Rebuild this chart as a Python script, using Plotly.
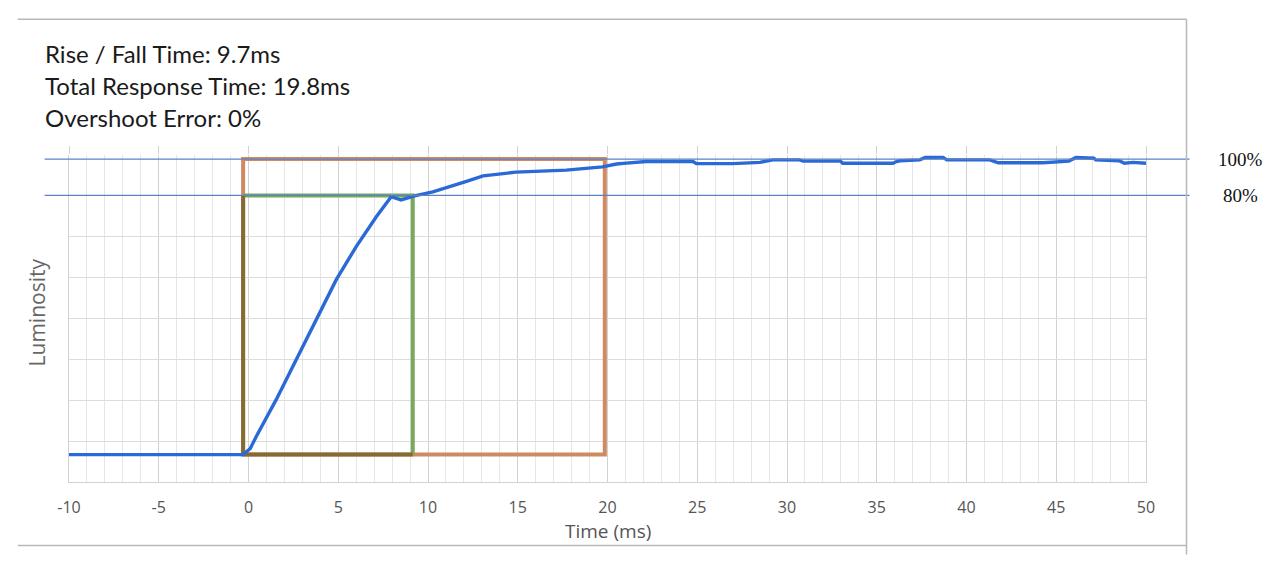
import plotly.graph_objects as go

# luminosity trace (x in ms, y in raw luminosity units)
time_ms = [-10, -0.3, 0.1, 0.44, 1.55, 2.66, 3.78, 4.89, 6.0, 7.12, 7.95, 8.5, 9.25,
           10.27, 12.1, 13.07, 14.9, 17.33, 17.7, 19.72, 20.5, 21.05, 22.16, 24.75,
           24.95, 26.98, 28.5, 29.2, 30.7, 30.9, 32.98, 33.1, 35.9, 36.1, 36.3, 37.4,
           37.7, 38.7, 38.9, 39.0, 41.3, 41.77, 44.26, 45.7, 46.1, 47.1, 47.2, 48.5,
           48.8, 49.27, 50]
luminosity = [0.67, 0.67, 0.82, 1.12, 2.02, 2.99, 3.97, 4.95, 5.76, 6.49, 6.98, 6.90, 7.00,
              7.10, 7.35, 7.49, 7.58, 7.62, 7.63, 7.71, 7.78, 7.80, 7.84, 7.84,
              7.79, 7.79, 7.82, 7.88, 7.88, 7.85, 7.85, 7.80, 7.80, 7.84, 7.86, 7.88,
              7.94, 7.94, 7.88, 7.88, 7.88, 7.81, 7.81, 7.85, 7.94, 7.92, 7.88, 7.86,
              7.80, 7.82, 7.80]

level_start = 0.67      # baseline luminosity
level_100 = 7.90        # 100% level
level_80 = 7.01         # 80% level (rise box top)
t_start = -0.3
t_rise_end = 9.15
t_total_end = 19.85

Y_MAX = 8
x_ticks = [-10, -5, 0, 5, 10, 15, 20, 25, 30, 35, 40, 45, 50]
x_ticktext = ["-10", "-5", "0", "5", "10", "15", "20", "25", "30", "35", "40", "45", "50"]
info_lines = ["Rise / Fall Time: 9.7ms", "Total Response Time: 19.8ms", "Overshoot Error: 0%"]
ref_levels = [(level_100, "100%"), (level_80, "80%")]

fig = go.Figure()

# total response box (orange)
fig.add_trace(go.Scatter(
    x=[t_start, t_start, t_total_end, t_total_end, t_start],
    y=[level_start, level_100, level_100, level_start, level_start],
    mode="lines", line=dict(color="#d08a62", width=4), hoverinfo="skip"))
# rise box (green), overlapping edges in brown
fig.add_trace(go.Scatter(
    x=[t_start, t_rise_end, t_rise_end],
    y=[level_80, level_80, level_start],
    mode="lines", line=dict(color="#78a85c", width=4), hoverinfo="skip"))
fig.add_trace(go.Scatter(
    x=[t_start, t_start, t_rise_end],
    y=[level_80, level_start, level_start],
    mode="lines", line=dict(color="#866a34", width=4), hoverinfo="skip"))
# the measured curve
fig.add_trace(go.Scatter(
    x=time_ms, y=luminosity, mode="lines",
    line=dict(color="#2a6ad6", width=3.4)))
# dummy trace for the top axis (major grid stubs)
fig.add_trace(go.Scatter(x=[-10, 50], y=[0, 0], xaxis="x2", mode="lines",
                         line=dict(width=0), hoverinfo="skip"))

shapes = []
annotations = []
for val, label in ref_levels:
    shapes.append(dict(type="line", xref="paper", yref="paper",
                       x0=-0.0226, x1=1.0404, y0=val / Y_MAX, y1=val / Y_MAX,
                       line=dict(color="#5a82c4", width=1.2), layer="above"))
    annotations.append(dict(text=label, xref="paper", yref="paper",
                            x=1.0877, y=val / Y_MAX, xanchor="center", yanchor="middle",
                            showarrow=False,
                            font=dict(family="Liberation Serif", size=19, color="#111")))

# outer frame
frame = "#b8b8b8"
shapes += [
    dict(type="line", xref="paper", yref="paper", x0=-0.0476, x1=1.0376, y0=1.4153, y1=1.4153,
         line=dict(color=frame, width=1.5)),
    dict(type="line", xref="paper", yref="paper", x0=1.0376, x1=1.0376, y0=1.4153, y1=-0.2214,
         line=dict(color=frame, width=1.5)),
    dict(type="line", xref="paper", yref="paper", x0=-0.0476, x1=1.0376, y0=-0.1939, y1=-0.1939,
         line=dict(color=frame, width=1.5)),
]

for i, line in enumerate(info_lines):
    annotations.append(dict(text=line, xref="paper", yref="paper",
                            x=-0.0244, y=1.3115 - i * 0.0978,
                            xanchor="left", yanchor="middle", showarrow=False,
                            font=dict(family="Lato", size=24, color="#1a1a1a")))

annotations.append(dict(text="Luminosity", xref="paper", yref="paper",
                        x=-0.030, y=0.5176, textangle=-90, showarrow=False,
                        xanchor="center", yanchor="middle",
                        font=dict(family="Open Sans", size=21, color="#666")))
annotations.append(dict(text="Time (ms)", xref="paper", yref="paper",
                        x=0.5, y=-0.149, showarrow=False,
                        xanchor="center", yanchor="middle",
                        font=dict(family="Open Sans", size=19, color="#555")))

# the page adds an 8px body margin, so the figure is 8px smaller than the window
fig.update_layout(
    width=1272, height=556,
    margin=dict(l=61, r=134, t=147, b=82),
    paper_bgcolor="white", plot_bgcolor="rgba(0,0,0,0)",
    showlegend=False,
    shapes=shapes, annotations=annotations,
    xaxis=dict(
        range=[-10, 50], tickvals=x_ticks, ticktext=x_ticktext,
        showgrid=True, gridcolor="#d2d2d2", gridwidth=1,
        minor=dict(dtick=1, showgrid=True, gridcolor="#e6e6e6", gridwidth=1),
        zeroline=False, showline=True, linecolor="#d2d2d2",
        ticks="", ticklabelstandoff=11,
        tickfont=dict(family="Open Sans", size=16, color="#555")),
    xaxis2=dict(
        range=[-10, 50], dtick=5, tick0=0, overlaying="x", side="top",
        showgrid=False, showticklabels=False, zeroline=False,
        ticks="outside", ticklen=8, tickcolor="#d2d2d2"),
    yaxis=dict(
        range=[0, Y_MAX], dtick=1, showticklabels=False,
        showgrid=True, gridcolor="#dcdcdc", gridwidth=1,
        zeroline=False, showline=True, linecolor="#d2d2d2", mirror=True),
)

fig.write_html("out.html")
